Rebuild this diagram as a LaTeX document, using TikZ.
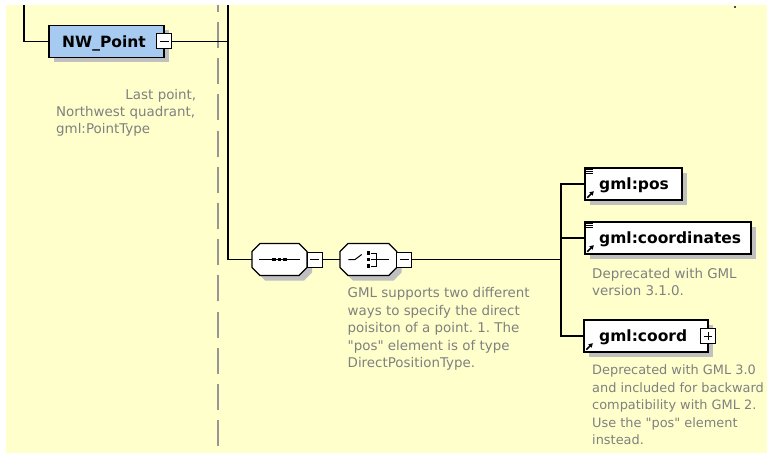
\documentclass[tikz,border=0pt]{standalone}
\usepackage{fontspec}
\setmainfont{DejaVu Sans}[Ligatures=TeXOff]
\usetikzlibrary{shadows,calc,arrows.meta}
\definecolor{bgyellow}{RGB}{255,255,204}
\definecolor{elblue}{RGB}{166,202,240}
\definecolor{shadegray}{RGB}{192,192,192}
\definecolor{cmtgray}{RGB}{128,128,128}
\definecolor{dashgray}{RGB}{150,150,150}
\newcommand{\octshape}[1]{(-#1+8,-16) -- (#1-8,-16) -- (#1,-8) -- (#1,8) -- (#1-8,16) -- (-#1+8,16) -- (-#1,8) -- (-#1,-8) -- cycle}
\frenchspacing
\begin{document}
\begin{tikzpicture}[x=1pt,y=-1pt,
  conn/.style={line width=1.2pt, draw=black},
  boxshadow/.style={drop shadow={shadow xshift=5pt, shadow yshift=-5pt, fill=shadegray, opacity=1}},
  elembox/.style={draw=black, line width=1.4pt, fill=white, inner sep=0pt, minimum height=32pt, boxshadow},
  globalbox/.style={elembox, fill=elblue},
  compnode/.style={draw=none, inner sep=0pt, minimum height=32pt},
  octline/.style={draw=black, line width=1.2pt, fill=white},
  octshadow/.style={fill=shadegray},
  togglebox/.style={draw=black, line width=1pt, fill=white, inner sep=0pt, minimum size=15pt},
  minusbox/.style={togglebox, path picture={\draw[line width=1pt]
      ([xshift=3pt]path picture bounding box.west) -- ([xshift=-3pt]path picture bounding box.east);}},
  plusbox/.style={togglebox, path picture={\draw[line width=1pt]
      ([xshift=3pt]path picture bounding box.west) -- ([xshift=-3pt]path picture bounding box.east);
      \draw[line width=1pt]
      ([yshift=-3pt]path picture bounding box.north) -- ([yshift=3pt]path picture bounding box.south);}},
  elemlabel/.style={font=\fontsize{15.5}{18}\selectfont\bfseries, inner sep=0pt, anchor=base west},
  cmt/.style={font=\fontsize{13.4}{17.5}\selectfont\frenchspacing, text=cmtgray, inner sep=0pt, anchor=north west, align=left},
  dashline/.style={draw=dashgray, line width=1.2pt, dash pattern=on 26pt off 10.2pt, dash phase=19.2pt},
  symline/.style={line width=1pt}
]
\useasboundingbox (0,0) rectangle (767,454);
\fill[white] (0,0) rectangle (767,454);
\fill[bgyellow] (6,5) rectangle (767,452.5);
\fill[black!70] (734,6) rectangle (736,8);

% dashed separator
\coordinate (dtop) at (218,5);
\coordinate (dbot) at (218,452.5);
\draw[dashline] (dtop) -- (dbot);

% anchor coordinates for free connector ends
\coordinate (t1) at (24,5);
\coordinate (t2) at (228,5);
\coordinate (vx) at (561,184);

% nodes
\node[globalbox, minimum width=115pt] (nw) at (106.5,41.5) {};
\node[elemlabel] (nwT) at (62,47.5) {NW\_Point};
\node[minusbox] (nwm) at (164,41.5) {};

\node[cmt, text width=140pt] (nwc) at (56,89.6)
  {\hspace*{\fill}Last point,\\[-0.5pt]Northwest quadrant,\\[-0.5pt]gml:PointType};

% compositors (octagons drawn explicitly round named nodes)
\node[compnode, minimum width=55pt] (seq) at (279.5,259.5) {};
\node[compnode, minimum width=56.7pt] (cho) at (368.3,259.5) {};
\begin{scope}[shift={(seq.center)}]
  \fill[octshadow, shift={(5,5)}] \octshape{27.5};
  \path[octline] \octshape{27.5};
\end{scope}
\begin{scope}[shift={(cho.center)}]
  \fill[octshadow, shift={(5,5)}] \octshape{28.35};
  \path[octline] \octshape{28.35};
\end{scope}
\node[minusbox] (seqm) at (314.7,259.5) {};
\node[minusbox] (chom) at (404.2,259.5) {};

\node[cmt] (choc) at (347.5,287.5)
  {GML supports two different\\ways to specify the direct\\poisiton of a point. 1. The\\"pos" element is of type\\DirectPositionType.};

\node[elembox, minimum width=97pt] (pos) at (633.5,184) {};
\node[elemlabel] (posT) at (599,190) {gml:pos};

\node[elembox, minimum width=166pt] (coords) at (668,238) {};
\node[elemlabel] (coordsT) at (599,243.5) {gml:coordinates};
\node[cmt] (coordsc) at (592,268)
  {Deprecated with GML\\version 3.1.0.};

\node[elembox, minimum width=124pt] (coord) at (646,336) {};
\node[elemlabel] (coordT) at (599,341.5) {gml:coord};
\node[plusbox, minimum size=14.5pt] (coordp) at (708,336) {};
\node[cmt, font=\fontsize{12.9}{17.5}\selectfont\frenchspacing] (coordc) at (592,364.5)
  {Deprecated with GML 3.0\\and included for backward\\compatibility with GML 2.\\Use the "pos" element\\instead.};

% connectors
\draw[conn] (t1) |- (nw.west);
\draw[conn] (nwm.east) -- (nwm.east -| t2);
\draw[conn] (t2) |- (seq.west);
\draw[conn] (seqm.east) -- (cho.west);
\draw[conn] (chom.east) -- (chom.east -| vx);
\draw[conn] (pos.west) -- (pos.west -| vx) |- (coord.west);
\draw[conn] (coords.west) -- (coords.west -| vx);

% sequence symbol
\begin{scope}[shift={(seq.center)}]
  \draw[symline] (-20.5,0) -- (20.5,0);
  \foreach \dx in {-5.5,0,5.5} {\fill (\dx-1.75,-1.75) rectangle (\dx+1.75,1.75);}
\end{scope}

% choice symbol
\begin{scope}[shift={(cho.center)}]
  \draw[symline] (-20,0) -- (-13.3,0) -- (-6.6,-5);
  \foreach \dy in {-6.5,0,6.5} {\fill (-1.35,\dy-1.75) rectangle (2.15,\dy+1.75);}
  \draw[symline] (2.2,-6.5) -- (8.4,-6.5) -- (8.4,6.5) -- (2.2,6.5);
  \draw[symline] (2.2,0) -- (21,0);
\end{scope}

% element icons
\foreach \b in {pos,coords} {
  \foreach \dy in {2.5,4.5,6.5} {
    \draw[line width=0.9pt] ($(\b.north west)+(2,\dy)$) -- ($(\b.north west)+(8.5,\dy)$);
  }
}
\foreach \b in {pos,coords,coord} {
  \draw[line width=1.6pt, -{Triangle[length=4pt,width=4.5pt]}]
    ($(\b.south west)+(3,-3)$) -- ($(\b.south west)+(9.5,-9.5)$);
}
\end{tikzpicture}
\end{document}
